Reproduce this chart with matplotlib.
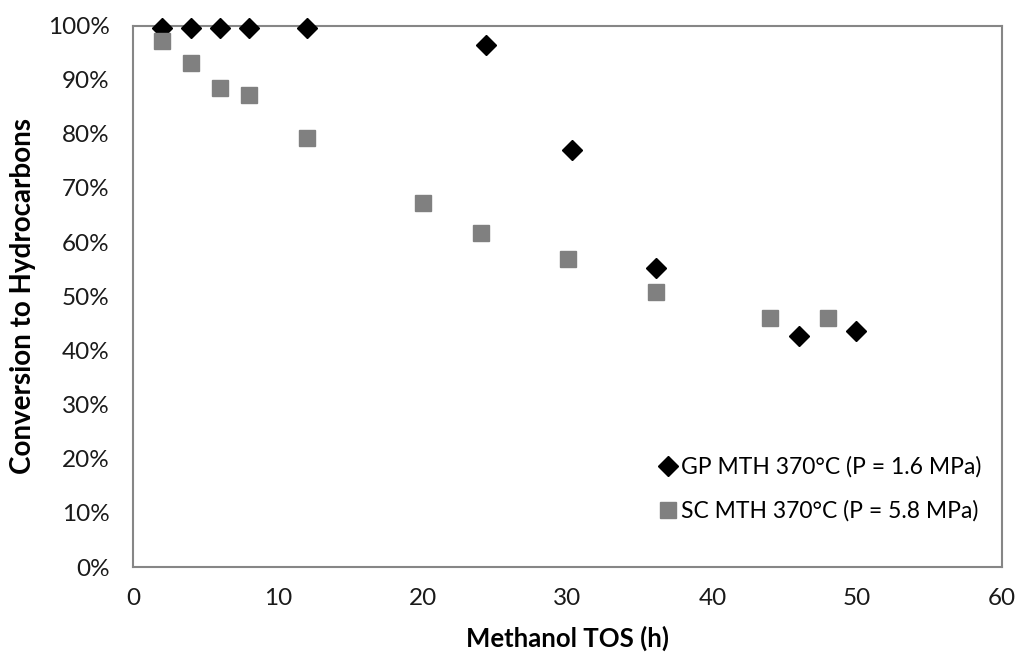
import matplotlib
matplotlib.use("Agg")
from matplotlib import pyplot as plt
from matplotlib.ticker import PercentFormatter

# methanol time on stream (h) and conversion to hydrocarbons (%)
gp_tos = [2, 4, 6, 8, 12, 24.4, 30.3, 36.1, 46.0, 49.9]
gp_conv = [99.6, 99.6, 99.6, 99.6, 99.6, 96.4, 77.1, 55.2, 42.6, 43.6]

sc_tos = [2, 4, 6, 8, 12, 20, 24, 30, 36.1, 44, 48]
sc_conv = [97.2, 93.1, 88.5, 87.2, 79.3, 67.2, 61.7, 56.9, 50.7, 45.9, 46.0]

gp_label = "GP MTH 370°C (P = 1.6 MPa)"
sc_label = "SC MTH 370°C (P = 5.8 MPa)"

plt.rcParams["font.family"] = ["Lato", "DejaVu Sans"]

fig = plt.figure(figsize=(10.18, 6.54), dpi=100)
ax = fig.add_axes([0.1307, 0.133, 0.8536, 0.828])

ax.plot(gp_tos, gp_conv, linestyle="none", marker="D", markersize=9.7,
        color="black", label=gp_label, clip_on=False, zorder=3)
ax.plot(sc_tos, sc_conv, linestyle="none", marker="s", markersize=11.5,
        color="#808080", label=sc_label, clip_on=False, zorder=3)

ax.set_xlim(0, 60)
ax.set_ylim(0, 100)
ax.set_xticks(range(0, 61, 10))
ax.set_yticks(range(0, 101, 10))
ax.yaxis.set_major_formatter(PercentFormatter(decimals=0))

for side in ax.spines.values():
    side.set_color("#868686")
    side.set_linewidth(1.5)

ax.tick_params(axis="both", length=0, labelsize=17.5, labelcolor="#1a1a1a")
ax.tick_params(axis="y", pad=17)
ax.tick_params(axis="x", pad=15)

ax.set_xlabel("Methanol TOS (h)", fontsize=18.5, fontweight="bold", labelpad=12)
ax.set_ylabel("Conversion to Hydrocarbons", fontsize=20, fontweight="bold", labelpad=8)

ax.legend(loc="lower right", bbox_to_anchor=(1.0, 0.045), frameon=False,
          fontsize=16.5, handletextpad=0.05, labelspacing=1.0, handlelength=1.0)

fig.savefig("out.png", dpi=100)
